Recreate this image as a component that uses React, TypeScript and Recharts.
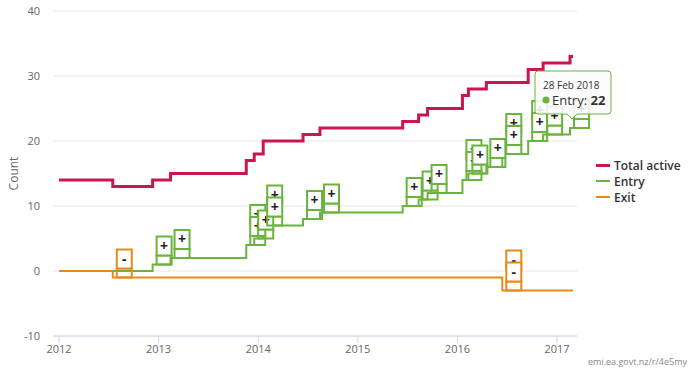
import React from 'react';
import { ComposedChart, Line, XAxis, YAxis, CartesianGrid } from 'recharts';

// Event dates (decimal years) shared by all three step series
const eventTimes = [
  2012.0, 2012.54, 2012.94, 2013.12, 2013.88, 2013.96, 2014.05, 2014.45, 2014.62,
  2015.45, 2015.61, 2015.7, 2016.05, 2016.11, 2016.29, 2016.45, 2016.71, 2016.86,
  2017.13, 2017.16,
];
const totalActive = [14, 13, 14, 15, 17, 18, 20, 21, 22, 23, 24, 25, 27, 28, 29, 29, 31, 32, 33, 33];
const entry = [0, 0, 1, 2, 4, 5, 7, 8, 9, 10, 11, 12, 14, 15, 16, 18, 20, 21, 22, 22];
const exitVals = [0, -1, -1, -1, -1, -1, -1, -1, -1, -1, -1, -1, -1, -1, -1, -3, -3, -3, -3, -3];

const yearTicks = [2012, 2013, 2014, 2015, 2016, 2017];
const countTicks = [-10, 0, 10, 20, 30, 40];

const tooltipDate = '28 Feb 2018';
const tooltipSeries = 'Entry';
const tooltipValue = 22;

const RED = '#c9164d';
const GREEN = '#6ab33c';
const ORANGE = '#e88a1a';
const FONT = '"Open Sans", "DejaVu Sans", sans-serif';

const lastIdx = eventTimes.length - 1;
const data = eventTimes.map((t, i) => ({
  t,
  total: totalActive[i],
  entry: entry[i],
  exit: exitVals[i],
  entryN: i > 0 && i < lastIdx ? Math.max(0, entry[i] - entry[i - 1]) : 0,
  exitN: i > 0 && i < lastIdx ? Math.max(0, exitVals[i - 1] - exitVals[i]) : 0,
}));

const legendItems = [
  { name: 'Total active', color: RED, w: 3 },
  { name: 'Entry', color: GREEN, w: 2 },
  { name: 'Exit', color: ORANGE, w: 2 },
];

function flags(props: any, color: string, sym: string, key: string, withTip: boolean) {
  const { cx, cy, payload, index } = props;
  const n = payload[key] || 0;
  const items: any[] = [];
  if (n > 0) {
    items.push(
      <rect key="stem" x={cx + 4} y={cy - 9} width={15} height={9} fill="none" stroke={color} strokeWidth={2} />
    );
    for (let k = n - 1; k >= 0; k--) {
      const top = cy - 28 - k * 12;
      items.push(
        <g key={'b' + k}>
          <rect x={cx + 4} y={top} width={15} height={19} fill="#fff" stroke={color} strokeWidth={2} />
          <text x={cx + 11.5} y={top + 14} textAnchor="middle" fontSize={14} fontWeight="bold" fill="#222" fontFamily={FONT}>
            {sym}
          </text>
        </g>
      );
    }
  }
  if (withTip && index === lastIdx) {
    const bx = cx - 38;
    const by = cy - 57;
    items.push(
      <g key="tip">
        <path
          d={`M${bx + 3},${by} H${bx + 73} Q${bx + 76},${by} ${bx + 76},${by + 3} V${by + 40} Q${bx + 76},${by + 43} ${bx + 73},${by + 43} H${cx + 4} L${cx - 1},${cy - 9} L${cx - 6},${by + 43} H${bx + 3} Q${bx},${by + 43} ${bx},${by + 40} V${by + 3} Q${bx},${by} ${bx + 3},${by} Z`}
          fill="rgba(250,250,250,0.88)"
          stroke={GREEN}
          strokeWidth={1}
        />
        <text x={bx + 8} y={by + 17.5} fontSize={10} fill="#333" fontFamily={FONT}>
          {tooltipDate}
        </text>
        <circle cx={bx + 11} cy={by + 29} r={3.5} fill={GREEN} />
        <text x={bx + 17} y={by + 33.5} fontSize={13} fill="#333" fontFamily={FONT}>
          {tooltipSeries + ': '}
          <tspan fontWeight="bold">{tooltipValue}</tspan>
        </text>
      </g>
    );
  }
  return <g key={`f-${key}-${index}`}>{items}</g>;
}

export default function App() {
  return (
    <div style={{ position: 'absolute', left: 0, top: 0, width: 690, height: 373, fontFamily: FONT, background: '#fff' }}>
      <ComposedChart width={690} height={373} data={data} margin={{ top: 11, right: 113, bottom: 7, left: 0 }}>
        <CartesianGrid vertical={false} stroke="#e6e6e6" />
        <XAxis
          type="number"
          dataKey="t"
          domain={[2011.94, 2017.2]}
          ticks={yearTicks}
          height={30}
          tickSize={7}
          tickMargin={2}
          axisLine={{ stroke: '#ccd6eb' }}
          tickLine={{ stroke: '#ccd6eb' }}
          tick={{ fontSize: 11, fill: '#666', fontFamily: FONT }}
          tickFormatter={(v: number) => String(v)}
        />
        <YAxis
          type="number"
          domain={[-10, 40]}
          ticks={countTicks}
          width={53}
          axisLine={false}
          tickLine={false}
          tickMargin={7}
          tick={{ fontSize: 11, fill: '#666', fontFamily: FONT }}
          label={{ value: 'Count', angle: -90, position: 'insideLeft', offset: 14, style: { fontSize: 12, fill: '#666', fontFamily: FONT, textAnchor: 'middle' } }}
        />
        <Line type="stepAfter" dataKey="total" stroke={RED} strokeWidth={3} dot={false} activeDot={false} isAnimationActive={false} />
        <Line
          type="stepAfter"
          dataKey="entry"
          stroke={GREEN}
          strokeWidth={2}
          dot={(p: any) => flags(p, GREEN, '+', 'entryN', false)}
          activeDot={false}
          isAnimationActive={false}
        />
        <Line
          type="stepAfter"
          dataKey="exit"
          stroke={ORANGE}
          strokeWidth={2}
          dot={(p: any) => flags(p, ORANGE, '-', 'exitN', false)}
          activeDot={false}
          isAnimationActive={false}
        />
        <Line
          type="stepAfter"
          dataKey="entry"
          stroke="none"
          dot={(p: any) => flags({ ...p, payload: { ...p.payload, none: 0 } }, GREEN, '+', 'none', true)}
          activeDot={false}
          legendType="none"
          isAnimationActive={false}
        />
      </ComposedChart>
      <div style={{ position: 'absolute', left: 596, top: 157 }}>
        {legendItems.map((it) => (
          <div key={it.name} style={{ display: 'flex', alignItems: 'center', height: 16, fontSize: 12, fontWeight: 600, color: '#333' }}>
            <span style={{ display: 'inline-block', width: 14, height: it.w, background: it.color, marginRight: 4 }} />
            <span>{it.name}</span>
          </div>
        ))}
      </div>
      <div style={{ position: 'absolute', right: 3, top: 355, fontSize: 9, color: '#888' }}>emi.ea.govt.nz/r/4e5my</div>
    </div>
  );
}
